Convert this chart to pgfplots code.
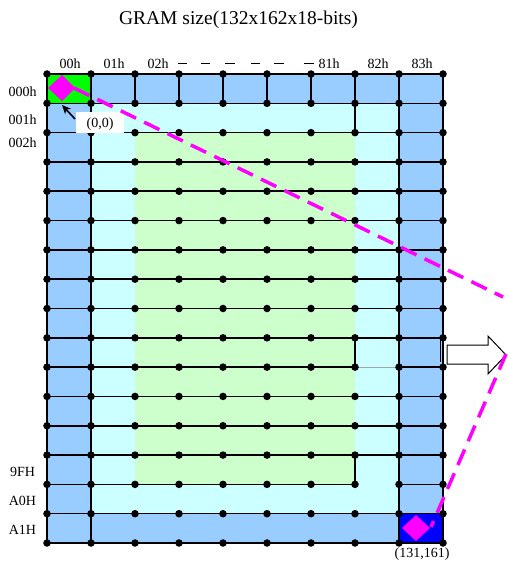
\documentclass[border=0pt]{standalone}
\usepackage{pgfplots}
\pgfplotsset{compat=1.18}
\usepackage{fontspec}
\setmainfont{Liberation Serif}
\usetikzlibrary{arrows.meta}
\definecolor{lblue}{RGB}{153,204,255}
\definecolor{lcyan}{RGB}{204,255,255}
\definecolor{lgreen}{RGB}{204,255,204}
\definecolor{bgreen}{RGB}{0,255,0}
\definecolor{dblue}{RGB}{0,0,255}
\definecolor{mag}{RGB}{255,0,255}
\begin{document}
\begin{tikzpicture}
\pgfplotsset{base/.style={scale only axis, width=506bp, height=562bp, hide axis, clip=false, y dir=reverse, at={(0,0)}, anchor=south west}}
% ---------- grid in cell units (columns 0..8, rows 0..15) ----------
\begin{axis}[base, xmin=-1.068182, xmax=10.431818, ymin=-2.524520, ymax=16.648188]
\addplot[draw=none, fill=lblue] coordinates {(0,0) (9,0) (9,16) (0,16)} -- cycle;
\addplot[draw=none, fill=lcyan] coordinates {(1,1) (8,1) (8,15) (1,15)} -- cycle;
\addplot[draw=none, fill=lgreen] coordinates {(2,2) (7,2) (7,14) (2,14)} -- cycle;
\addplot[draw=none, fill=bgreen] coordinates {(0,0) (1,0) (1,1) (0,1)} -- cycle;
\addplot[draw=none, fill=dblue] coordinates {(8,15) (9,15) (9,16) (8,16)} -- cycle;
% vertical lines
\addplot[black, line width=1.6bp, unbounded coords=jump] coordinates {
(0,0) (0,16) (nan,nan) (1,0) (1,16) (nan,nan) (8,0) (8,16) (nan,nan) (9,0) (9,16) (nan,nan)
(2,0) (2,1) (nan,nan) (3,0) (3,1) (nan,nan) (4,0) (4,1) (nan,nan) (5,0) (5,1) (nan,nan)
(6,0) (6,1) (nan,nan) (7,0) (7,2) (nan,nan) (7,9) (7,10) (nan,nan) (7,13) (7,14)
};
\addplot[gray!70, line width=0.8bp] coordinates {(7,10) (8,10)};
% horizontal lines with intersection dots
\addplot[black, line width=1.6bp, unbounded coords=jump, mark=*, mark size=2.9bp, mark options={solid, fill=black}] coordinates {
(0,0)(1,0)(2,0)(3,0)(4,0)(5,0)(6,0)(7,0)(8,0)(9,0)(nan,nan)
(0,1)(1,1)(2,1)(3,1)(4,1)(5,1)(6,1)(7,1)(8,1)(9,1)(nan,nan)
(0,2)(1,2)(2,2)(3,2)(4,2)(5,2)(6,2)(7,2)(8,2)(9,2)(nan,nan)
(0,3)(1,3)(2,3)(3,3)(4,3)(5,3)(6,3)(7,3)(8,3)(9,3)(nan,nan)
(0,4)(1,4)(2,4)(3,4)(4,4)(5,4)(6,4)(7,4)(8,4)(9,4)(nan,nan)
(0,5)(1,5)(2,5)(3,5)(4,5)(5,5)(6,5)(7,5)(8,5)(9,5)(nan,nan)
(0,6)(1,6)(2,6)(3,6)(4,6)(5,6)(6,6)(7,6)(8,6)(9,6)(nan,nan)
(0,7)(1,7)(2,7)(3,7)(4,7)(5,7)(6,7)(7,7)(8,7)(9,7)(nan,nan)
(0,8)(1,8)(2,8)(3,8)(4,8)(5,8)(6,8)(7,8)(8,8)(9,8)(nan,nan)
(0,9)(1,9)(2,9)(3,9)(4,9)(5,9)(6,9)(7,9)(8,9)(9,9)(nan,nan)
(0,10)(1,10)(2,10)(3,10)(4,10)(5,10)(6,10)(7,10)(nan,nan)(8,10)(9,10)(nan,nan)
(0,11)(1,11)(2,11)(3,11)(4,11)(5,11)(6,11)(7,11)(8,11)(9,11)(nan,nan)
(0,12)(1,12)(2,12)(3,12)(4,12)(5,12)(6,12)(7,12)(8,12)(9,12)(nan,nan)
(0,13)(1,13)(2,13)(3,13)(4,13)(5,13)(6,13)(7,13)(8,13)(9,13)(nan,nan)
(0,14)(1,14)(2,14)(3,14)(4,14)(5,14)(6,14)(7,14)(nan,nan)(8,14)(9,14)(nan,nan)
(0,15)(1,15)(2,15)(3,15)(4,15)(5,15)(6,15)(7,15)(8,15)(9,15)(nan,nan)
(0,16)(1,16)(2,16)(3,16)(4,16)(5,16)(6,16)(7,16)(8,16)(9,16)
};
\end{axis}
% ---------- annotations in picture units ----------
\begin{axis}[base, xmin=0, xmax=506, ymin=0, ymax=562]
\addplot[draw=none] coordinates {(0,0) (506,562)};
\node[anchor=base, font=\fontsize{19.5bp}{23bp}\selectfont] at (axis cs:238.5,25) {GRAM size(132x162x18-bits)};
% column and row labels
\begin{scope}[every node/.style={anchor=base, font=\fontsize{14bp}{16bp}\selectfont, inner sep=0pt}]
\node at (axis cs:70,69) {00h};
\node at (axis cs:114,69) {01h};
\node at (axis cs:158,69) {02h};
\node at (axis cs:329,69) {81h};
\node at (axis cs:378,69) {82h};
\node at (axis cs:422,69) {83h};
\node at (axis cs:22.5,96) {000h};
\node at (axis cs:22.5,124) {001h};
\node at (axis cs:22.5,147) {002h};
\node at (axis cs:22.5,476) {9FH};
\node at (axis cs:22.5,505) {A0H};
\node at (axis cs:22.5,534) {A1H};
\node at (axis cs:422,557.5) {(131,161)};
\end{scope}
\addplot[black, line width=0.9bp, unbounded coords=jump] coordinates {
(178,63)(187,63)(nan,nan)(201,63)(210,63)(nan,nan)(225,63)(235,63)(nan,nan)
(251,63)(260,63)(nan,nan)(274,63)(284,63)(nan,nan)(304,63)(314,63)};
% (0,0) label box
\addplot[draw=none, fill=white] coordinates {(76,112) (124,112) (124,133) (76,133)} -- cycle;
\node[font=\fontsize{14bp}{16bp}\selectfont, anchor=base, inner sep=0pt] at (axis cs:100,127.5) {(0,0)};
\addplot[black, line width=1.6bp, -{Stealth[length=9bp,width=8bp]}] coordinates {(75,119) (62,105)};
% block arrow
\addplot[black, line width=1bp, fill=white] coordinates {(447,345) (488,345) (488,336) (506,355) (488,374) (488,364) (447,364)} -- cycle;
\addplot[black, line width=0.8bp] coordinates {(440.5,339) (440.5,362)};
% magenta dashed paths and diamonds
\addplot[mag, line width=3.5bp, dash pattern=on 17bp off 9bp] coordinates {(74,88) (503,297)};
\addplot[mag, line width=3.5bp, dash pattern=on 17bp off 9bp] coordinates {(506,354) (431,527)};
\addplot[draw=none, fill=mag] coordinates {(48,88) (62,75) (75,88) (62,101)} -- cycle;
\addplot[draw=none, fill=mag] coordinates {(402,528) (416,515) (430,528) (416,541)} -- cycle;
\end{axis}
\end{tikzpicture}
\end{document}
